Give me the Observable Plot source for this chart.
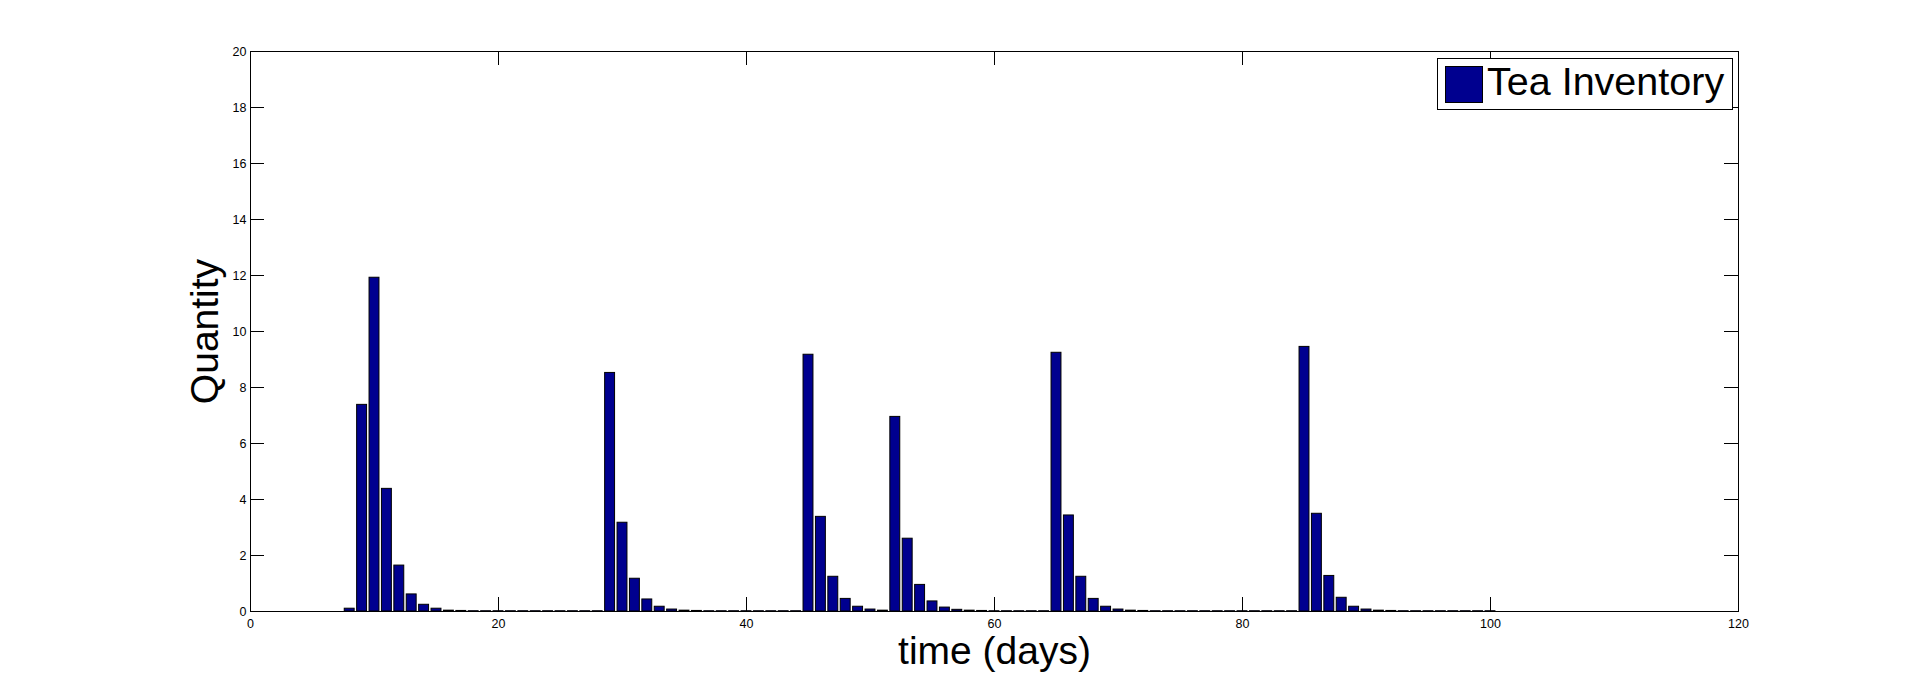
<!DOCTYPE html>
<html>
<head>
<meta charset="utf-8">
<script src="https://cdn.jsdelivr.net/npm/d3@7"></script>
<script src="https://cdn.jsdelivr.net/npm/@observablehq/plot@0.6"></script>
<style>
html, body { margin: 0; padding: 0; background: #fff; }
#wrap { position: relative; width: 1920px; height: 686px; }
#legend { position: absolute; left: 1437px; top: 58px; }
</style>
</head>
<body>
<div id="wrap"><div id="chart"></div><div id="legend"></div></div>
<script>
// Data
const days = [1,2,3,4,5,6,7,8,9,10,11,12,13,14,15,16,17,18,19,20,
  21,22,23,24,25,26,27,28,29,30,31,32,33,34,35,36,37,38,39,40,
  41,42,43,44,45,46,47,48,49,50,51,52,53,54,55,56,57,58,59,60,
  61,62,63,64,65,66,67,68,69,70,71,72,73,74,75,76,77,78,79,80,
  81,82,83,84,85,86,87,88,89,90,91,92,93,94,95,96,97,98,99,100];
const quantity = [0,0,0,0,0,0,0,0.1,7.38,11.92,4.38,1.64,0.61,0.24,0.1,0.03,0.02,0.01,0.01,0.01,
  0.01,0.01,0.01,0.01,0.01,0.01,0.01,0.01,8.52,3.17,1.17,0.43,0.17,0.07,0.03,0.02,0.01,0.01,0.01,0.01,
  0.01,0.01,0.01,0.01,9.17,3.38,1.24,0.45,0.17,0.07,0.03,6.95,2.6,0.95,0.36,0.14,0.06,0.03,0.02,0.01,
  0.01,0.01,0.01,0.01,9.24,3.43,1.24,0.45,0.17,0.07,0.03,0.02,0.01,0.01,0.01,0.01,0.01,0.01,0.01,0.01,
  0.01,0.01,0.01,0.01,9.45,3.49,1.27,0.49,0.17,0.07,0.03,0.02,0.01,0.01,0.01,0.01,0.01,0.01,0.01,0.01];
const xTicks = [0, 20, 40, 60, 80, 100, 120];
const yTicks = [0, 2, 4, 6, 8, 10, 12, 14, 16, 18, 20];
const seriesName = "Tea Inventory";
const xLabel = "time (days)";
const yLabel = "Quantity";

const table = days.map((d, i) => ({day: d, q: quantity[i]}));

const W = 1920, H = 686;
const mL = 250, mR = 182, mT = 51, mB = 75;
const plotW = W - mL - mR, plotH = H - mT - mB;
const tickLen = 14;
const barColor = "#00008F";
const font = "'Liberation Sans', Arial, Helvetica, sans-serif";

const chart = Plot.plot({
  width: W,
  height: H,
  marginLeft: mL,
  marginRight: mR,
  marginTop: mT,
  marginBottom: mB,
  style: {fontFamily: font, color: "black", background: "white"},
  x: {domain: [0, 120], axis: null},
  y: {domain: [0, 20], axis: null},
  marks: [
    Plot.rectY(table, {x1: d => d.day - 0.4, x2: d => d.day + 0.4, y: "q", fill: barColor, stroke: "black", strokeWidth: 1}),
    Plot.frame({stroke: "black", strokeWidth: 1}),
    // inward ticks on all four sides
    Plot.ruleX(xTicks, {x: d => d, insetTop: plotH - tickLen, stroke: "black"}),
    Plot.ruleX(xTicks, {x: d => d, insetBottom: plotH - tickLen, stroke: "black"}),
    Plot.ruleY(yTicks, {y: d => d, insetRight: plotW - tickLen, stroke: "black"}),
    Plot.ruleY(yTicks, {y: d => d, insetLeft: plotW - tickLen, stroke: "black"}),
    Plot.axisX(xTicks, {tickSize: 0, tickPadding: 8, fontSize: 12.5, label: null, tickFormat: d => String(d)}),
    Plot.axisY(yTicks, {tickSize: 0, tickPadding: 4, fontSize: 12.5, label: null, tickFormat: d => String(d)}),
    Plot.text([xLabel], {text: d => d, frameAnchor: "bottom", textAnchor: "middle", lineAnchor: "middle", dy: 40.5, fontSize: 39, fill: "black"}),
    Plot.text([yLabel], {text: d => d, frameAnchor: "left", textAnchor: "middle", lineAnchor: "middle", dx: -44.5, rotate: -90, fontSize: 39, fill: "black"})
  ]
});
document.getElementById("chart").appendChild(chart);

// Legend (MATLAB-style box, top right inside the axes)
const leg = d3.select("#legend").append("svg")
  .attr("width", 297).attr("height", 53)
  .style("font-family", font);
leg.append("rect").attr("x", 0.5).attr("y", 0.5).attr("width", 295).attr("height", 51)
  .attr("fill", "white").attr("stroke", "black");
leg.append("rect").attr("x", 8.5).attr("y", 8.5).attr("width", 37).attr("height", 36)
  .attr("fill", barColor).attr("stroke", "black");
leg.append("text").attr("x", 50).attr("y", 37).attr("font-size", 39.5).attr("fill", "black")
  .text(seriesName);
</script>
</body>
</html>
